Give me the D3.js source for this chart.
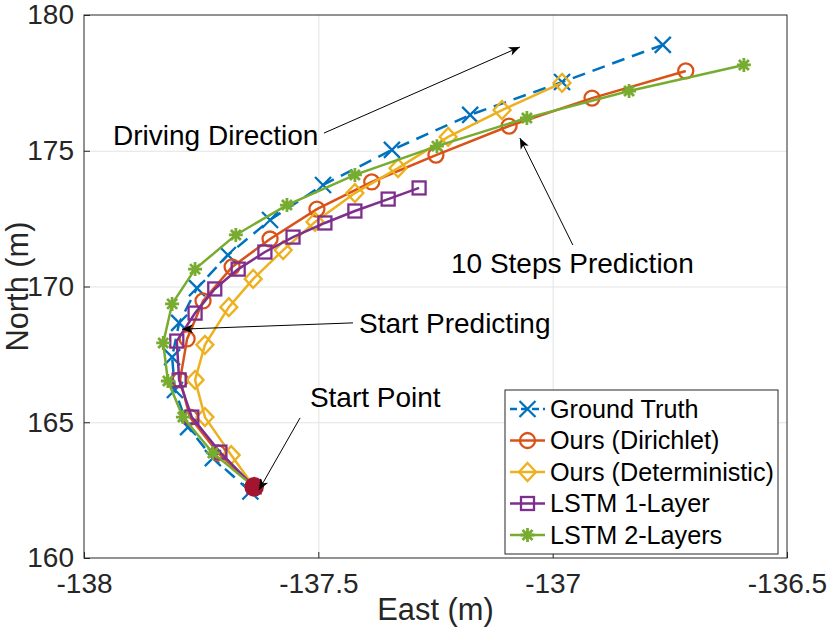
<!DOCTYPE html>
<html>
<head>
<meta charset="utf-8">
<script src="https://cdn.jsdelivr.net/npm/d3@7"></script>
<style>
  body { margin: 0; background: #fff; }
  text { font-family: "Liberation Sans", Arial, Helvetica, sans-serif; }
</style>
</head>
<body>
<div id="chart"></div>
<script>
// tick labels
const eastTicks = [-138, -137.5, -137, -136.5];
const northTicks = [160, 165, 170, 175, 180];

// series (East, North in metres)
const seriesNames = ["Ground Truth", "Ours (Dirichlet)", "Ours (Deterministic)", "LSTM 1-Layer", "LSTM 2-Layers"];

const groundTruthEast  = [-137.645, -137.725, -137.778, -137.806, -137.812, -137.797, -137.759, -137.693, -137.603, -137.490, -137.343, -137.176, -136.980, -136.765];
const groundTruthNorth = [162.45, 163.68, 164.82, 166.19, 167.40, 168.66, 169.94, 171.16, 172.45, 173.74, 175.03, 176.32, 177.53, 178.90];

const dirichletEast  = [-137.637, -137.714, -137.774, -137.795, -137.780, -137.746, -137.684, -137.603, -137.503, -137.386, -137.249, -137.093, -136.916, -136.716];
const dirichletNorth = [162.62, 163.87, 165.19, 166.56, 168.07, 169.47, 170.72, 171.75, 172.85, 173.85, 174.84, 175.91, 176.94, 177.94];

const deterministicEast  = [-137.637, -137.686, -137.742, -137.763, -137.742, -137.691, -137.639, -137.575, -137.507, -137.422, -137.330, -137.223, -137.108, -136.980];
const deterministicNorth = [162.62, 163.79, 165.19, 166.56, 167.85, 169.24, 170.28, 171.34, 172.38, 173.44, 174.36, 175.51, 176.50, 177.50];

const lstm1East  = [-137.637, -137.710, -137.770, -137.797, -137.802, -137.763, -137.721, -137.671, -137.614, -137.554, -137.486, -137.422, -137.351, -137.285];
const lstm1North = [162.62, 163.90, 165.19, 166.56, 167.99, 169.02, 169.91, 170.64, 171.27, 171.82, 172.34, 172.78, 173.22, 173.63];

const lstm2East  = [-137.637, -137.725, -137.789, -137.821, -137.831, -137.812, -137.763, -137.676, -137.567, -137.422, -137.247, -137.055, -136.837, -136.592];
const lstm2North = [162.62, 163.87, 165.19, 166.52, 167.92, 169.36, 170.64, 171.90, 173.00, 174.11, 175.17, 176.21, 177.20, 178.16];

const startEast = -137.637, startNorth = 162.62;

// annotations: text anchor and arrow from/to, in data units
const annotations = [
  { label: "Driving Direction",   tx: -137.938, ty: 175.21, from: [-137.488, 175.65], to: [-137.070, 178.82] },
  { label: "10 Steps Prediction", tx: -137.217, ty: 170.50, from: [-136.957, 171.53], to: [-137.070, 175.47] },
  { label: "Start Predicting",    tx: -137.413, ty: 168.29, from: [-137.426, 168.66], to: [-137.791, 168.43] },
  { label: "Start Point",         tx: -137.518, ty: 165.56, from: [-137.539, 165.16], to: [-137.627, 162.50] }
];

(function () {
  let margin = {top: 15, right: 43, bottom: 75, left: 84},
      width = 830 - margin.left - margin.right,
      height = 633 - margin.top - margin.bottom;

  let svg = d3.select("#chart")
    .append("svg")
      .attr("width", 830)
      .attr("height", 633);

  let defs = svg.append("defs");
  defs.append("marker")
      .attr("id", "head")
      .attr("viewBox", "-12 -6 14 12")
      .attr("refX", 0).attr("refY", 0)
      .attr("markerWidth", 14).attr("markerHeight", 12)
      .attr("markerUnits", "userSpaceOnUse")
      .attr("orient", "auto")
    .append("path")
      .attr("d", "M0,0 L-11,-4.5 L-8,0 L-11,4.5 Z")
      .attr("fill", "#000");

  let g = svg.append("g")
      .attr("transform", "translate(" + margin.left + "," + margin.top + ")");

  let x = d3.scaleLinear().domain([-138, -136.5]).range([0, width]);
  let y = d3.scaleLinear().domain([160, 180]).range([height, 0]);

  // grid
  g.append("g")
      .attr("transform", "translate(0," + height + ")")
      .call(d3.axisBottom(x).tickValues(eastTicks.slice(1, -1)).tickSize(-height).tickFormat(""))
      .call(a => a.select(".domain").remove())
      .selectAll("line").attr("stroke", "#e3e3e3");
  g.append("g")
      .call(d3.axisLeft(y).tickValues(northTicks.slice(1, -1)).tickSize(-width).tickFormat(""))
      .call(a => a.select(".domain").remove())
      .selectAll("line").attr("stroke", "#e3e3e3");

  // axes
  let xAxis = g.append("g")
      .attr("transform", "translate(0," + height + ")")
      .call(d3.axisBottom(x).tickValues(eastTicks).tickSizeInner(-6).tickSizeOuter(0)
        .tickPadding(15).tickFormat(d => String(d)));
  let yAxis = g.append("g")
      .call(d3.axisLeft(y).tickValues(northTicks).tickSizeInner(-6).tickSizeOuter(0)
        .tickPadding(10).tickFormat(d => String(d)));
  [xAxis, yAxis].forEach(a => {
    a.select(".domain").remove();
    a.selectAll("line").attr("stroke", "#262626");
    a.selectAll("text").attr("font-size", 28).attr("fill", "#262626")
      .attr("font-family", "Liberation Sans, Arial, sans-serif");
  });

  g.append("rect")
      .attr("width", width).attr("height", height)
      .attr("fill", "none").attr("stroke", "#262626").attr("stroke-width", 1);

  // axis labels
  g.append("text")
      .attr("x", width / 2).attr("y", height + 62)
      .attr("text-anchor", "middle")
      .attr("font-size", 30.8).attr("fill", "#262626")
      .text("East (m)");
  g.append("text")
      .attr("transform", "translate(" + (-56) + "," + (height / 2) + ") rotate(-90)")
      .attr("text-anchor", "middle")
      .attr("font-size", 30.8).attr("fill", "#262626")
      .text("North (m)");

  // marker shapes
  function drawMarker(sel, type, color) {
    if (type === "x") {
      sel.append("path").attr("d", "M-8,-8L8,8M-8,8L8,-8");
    } else if (type === "o") {
      sel.append("circle").attr("r", 7.5);
    } else if (type === "d") {
      sel.append("path").attr("d", "M0,-9L8.5,0L0,9L-8.5,0Z");
    } else if (type === "s") {
      sel.append("rect").attr("x", -6.5).attr("y", -6.5).attr("width", 13).attr("height", 13);
    } else if (type === "*") {
      sel.append("path").attr("d", "M-7,0L7,0M0,-7L0,7M-5,-5L5,5M-5,5L5,-5");
    }
    sel.selectAll("*").attr("fill", "none").attr("stroke", color)
      .attr("stroke-width", type === "*" ? 2.8 : 2.3);
  }

  let series = [
    { name: seriesNames[0], east: groundTruthEast,   north: groundTruthNorth,   color: "#0072BD", marker: "x", dash: "13,8" },
    { name: seriesNames[1], east: dirichletEast,     north: dirichletNorth,     color: "#D95319", marker: "o", dash: null },
    { name: seriesNames[2], east: deterministicEast, north: deterministicNorth, color: "#EDB120", marker: "d", dash: null },
    { name: seriesNames[3], east: lstm1East,         north: lstm1North,         color: "#7E2F8E", marker: "s", dash: null },
    { name: seriesNames[4], east: lstm2East,         north: lstm2North,         color: "#77AC30", marker: "*", dash: null }
  ];

  let line = d3.line().x(d => x(d[0])).y(d => y(d[1]));

  series.forEach(s => {
    let pts = s.east.map((e, i) => [e, s.north[i]]);
    g.append("path")
        .datum(pts)
        .attr("d", line)
        .attr("fill", "none")
        .attr("stroke", s.color)
        .attr("stroke-width", 2.5)
        .attr("stroke-dasharray", s.dash);
    g.append("g").selectAll("g")
        .data(pts)
        .enter()
        .append("g")
          .attr("transform", d => "translate(" + x(d[0]) + "," + y(d[1]) + ")")
          .each(function () { drawMarker(d3.select(this), s.marker, s.color); });
  });

  // start point
  g.append("circle")
      .attr("cx", x(startEast)).attr("cy", y(startNorth))
      .attr("r", 9.8)
      .attr("fill", "#A2142F");

  // annotations
  annotations.forEach(a => {
    g.append("line")
        .attr("x1", x(a.from[0])).attr("y1", y(a.from[1]))
        .attr("x2", x(a.to[0])).attr("y2", y(a.to[1]))
        .attr("stroke", "#000").attr("stroke-width", 1)
        .attr("marker-end", "url(#head)");
    g.append("text")
        .attr("x", x(a.tx)).attr("y", y(a.ty))
        .attr("font-size", 28).attr("fill", "#000")
        .text(a.label);
  });

  // legend
  let legend = g.append("g")
      .attr("transform", "translate(" + (505 - margin.left) + "," + (390 - margin.top) + ")");
  legend.append("rect")
      .attr("width", 273).attr("height", 164)
      .attr("fill", "#fff").attr("stroke", "#262626").attr("stroke-width", 1);
  series.forEach((s, i) => {
    let row = legend.append("g").attr("transform", "translate(0," + (19 + i * 31.5) + ")");
    row.append("line")
        .attr("x1", 5).attr("x2", 40)
        .attr("stroke", s.color).attr("stroke-width", 2.5)
        .attr("stroke-dasharray", s.dash ? "7,4" : null);
    let m = row.append("g").attr("transform", "translate(22.5,0)");
    drawMarker(m, s.marker, s.color);
    row.append("text")
        .attr("x", 45).attr("y", 0)
        .attr("dy", "0.35em")
        .attr("font-size", 25.2).attr("fill", "#000")
        .text(s.name);
  });
})();
</script>
</body>
</html>
